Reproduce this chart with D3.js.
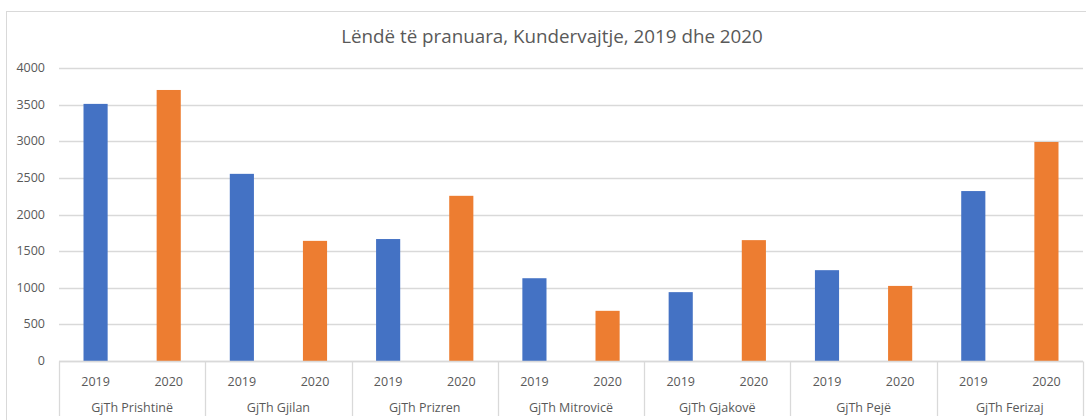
<!DOCTYPE html>
<html><head>
<meta charset="utf-8">
<script src="https://d3js.org/d3.v7.min.js"></script>
<style>
  body { margin: 0; background: #fff; }
  text { font-family: "Open Sans", "Noto Sans", sans-serif; fill: #595959; }
</style>
</head>
<body>
<svg id="chart" width="1086" height="420"></svg>
<script>
  // data
  const courts = ["GjTh Prishtinë", "GjTh Gjilan", "GjTh Prizren", "GjTh Mitrovicë", "GjTh Gjakovë", "GjTh Pejë", "GjTh Ferizaj"];
  const years = ["2019", "2020"];
  const values2019 = [3510, 2555, 1665, 1130, 940, 1240, 2320];
  const values2020 = [3700, 1640, 2255, 685, 1650, 1025, 2990];
  const yTicks = [0, 500, 1000, 1500, 2000, 2500, 3000, 3500, 4000];
  const colors = {"2019": "#4472C4", "2020": "#ED7D31"};

  const svg = d3.select("#chart");
  const margin = {top: 68, left: 59, right: 3, bottom: 59};
  const width = +svg.attr("width");
  const height = +svg.attr("height");

  // outer chart border (cut off at right/bottom like the reference)
  svg.append("rect")
     .attr("x", 6.5).attr("y", 11.5)
     .attr("width", 1090).attr("height", 420)
     .attr("fill", "none").attr("stroke", "#d9d9d9");

  svg.append("text")
     .attr("x", 552).attr("y", 43)
     .attr("text-anchor", "middle")
     .style("font-size", "18.8px")
     .text("Lëndë të pranuara, Kundervajtje, 2019 dhe 2020");

  const rows = [];
  courts.forEach((c, i) => {
    rows.push({court: c, year: "2019", value: values2019[i]});
    rows.push({court: c, year: "2020", value: values2020[i]});
  });

  const x = d3.scaleBand()
              .domain(rows.map((d, i) => i))
              .range([margin.left, width - margin.right]);
  const groupX = d3.scaleBand()
              .domain(courts)
              .range([margin.left, width - margin.right]);
  const y = d3.scaleLinear().domain([0, 4000]).range([height - margin.bottom, margin.top]);

  // gridlines + y labels
  const grid = svg.append("g");
  grid.selectAll("line").data(yTicks).join("line")
      .attr("x1", margin.left).attr("x2", width - margin.right)
      .attr("y1", d => Math.round(y(d)) + 0.5).attr("y2", d => Math.round(y(d)) + 0.5)
      .attr("stroke", "#d9d9d9").attr("stroke-width", 1.3);
  grid.selectAll("text").data(yTicks).join("text")
      .attr("x", 45).attr("y", d => y(d) + 4)
      .attr("text-anchor", "end")
      .style("font-size", "12.5px")
      .text(d => d);

  // bars
  const barW = x.bandwidth() * 0.33;
  svg.append("g").selectAll("rect").data(rows).join("rect")
     .attr("x", (d, i) => x(i) + x.bandwidth() / 2 - barW / 2)
     .attr("y", d => y(d.value))
     .attr("width", barW)
     .attr("height", d => y(0) - y(d.value))
     .attr("fill", d => colors[d.year]);

  // category axis: baseline, group separators, labels
  const axis = svg.append("g");
  const y0 = Math.round(y(0)) + 0.5;
  axis.append("line")
      .attr("x1", margin.left).attr("x2", width - margin.right)
      .attr("y1", y0).attr("y2", y0)
      .attr("stroke", "#d9d9d9").attr("stroke-width", 1.3);
  const seps = courts.map(c => groupX(c)).concat([width - margin.right]);
  axis.selectAll("line.sep").data(seps).join("line")
      .attr("class", "sep")
      .attr("x1", d => Math.round(d) + 0.5).attr("x2", d => Math.round(d) + 0.5)
      .attr("y1", y0).attr("y2", 416)
      .attr("stroke", "#d9d9d9").attr("stroke-width", 1.3);
  axis.selectAll("text.year").data(rows).join("text")
      .attr("class", "year")
      .attr("x", (d, i) => x(i) + x.bandwidth() / 2)
      .attr("y", 386)
      .attr("text-anchor", "middle")
      .style("font-size", "12.5px")
      .text(d => d.year);
  axis.selectAll("text.court").data(courts).join("text")
      .attr("class", "court")
      .attr("x", d => groupX(d) + groupX.bandwidth() / 2)
      .attr("y", 412)
      .attr("text-anchor", "middle")
      .style("font-size", "12.5px")
      .text(d => d);
</script>
</body>
</html>
